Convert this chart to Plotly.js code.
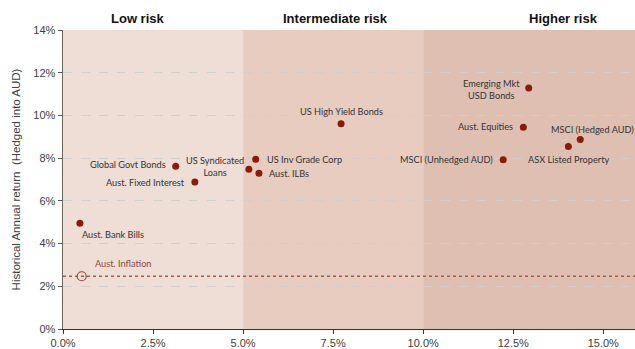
<!DOCTYPE html>
<html><head><meta charset="utf-8">
<script src="https://cdn.plot.ly/plotly-3.0.1.min.js"></script>
<style>html,body{margin:0;padding:0;background:#fff}#chart{width:635px;height:349px}</style>
</head><body><div id="chart"></div>
<script>
// Asset classes: risk (volatility, %) vs historical annual return (%)
const assets = ["Aust. Bank Bills","Global Govt Bonds","Aust. Fixed Interest","US Syndicated<br>Loans","US Inv Grade Corp","Aust. ILBs","US High Yield Bonds","Emerging Mkt<br>USD Bonds","Aust. Equities","MSCI (Hedged AUD)","ASX Listed Property","MSCI (Unhedged AUD)"];
const risk = [0.47, 3.13, 3.66, 5.16, 5.35, 5.44, 7.72, 12.93, 12.78, 14.36, 14.03, 12.22];
const ret  = [4.95, 7.62, 6.88, 7.48, 7.95, 7.29, 9.61, 11.28, 9.45, 8.87, 8.54, 7.93];
// label placement relative to marker (pixels)
const labAnchor = ["left","right","right","center","left","left","center","center","right","left","center","right"];
const labDx = [0,-8,-8,-34,9,8,0,-37,-8,-31,0,-8];
const labDy = [-11,2,0,3,0,0,12,-1,1,10,-13,0];

const inflationName = "Aust. Inflation";
const inflationRisk = 0.52;
const inflationRet = 2.47;

const bandNames = ["Low risk","Intermediate risk","Higher risk"];
const bandStart = [0, 5, 10];
const bandEnd = [5, 10, 16];
const bandColors = ["#EEDED5","#E8CCC0","#DFBFB1"];
const bandLabelX = [2.07, 7.57, 13.9];

const xTicks = [0, 2.5, 5, 7.5, 10, 12.5, 15];
const xTickText = ["0.0%","2.5%","5.0%","7.5%","10.0%","12.5%","15.0%"];
const yTicks = [0, 2, 4, 6, 8, 10, 12, 14];
const yTickText = ["0%","2%","4%","6%","8%","10%","12%","14%"];

const shapes = bandNames.map((n,i)=>({type:"rect",xref:"x",yref:"paper",x0:bandStart[i],x1:bandEnd[i],y0:0,y1:1,fillcolor:bandColors[i],line:{width:0},layer:"below"}));
shapes.push({type:"line",xref:"paper",yref:"y",x0:0,x1:1,y0:inflationRet,y1:inflationRet,line:{color:"#A35A52",width:1.3,dash:"dot"},layer:"above"});

const labelFont = {family:"Lato, 'Open Sans', sans-serif", size:9.2, color:"#333333"};
const annotations = assets.map((a,i)=>({x:risk[i],y:ret[i],xref:"x",yref:"y",text:a,showarrow:false,xanchor:labAnchor[i],yanchor:"middle",xshift:labDx[i],yshift:labDy[i],font:labelFont,align:"center"}));
annotations.push({x:inflationRisk,y:inflationRet,xref:"x",yref:"y",text:inflationName,showarrow:false,xanchor:"left",yanchor:"middle",xshift:11,yshift:13,font:{family:labelFont.family,size:9.2,color:"#8B4A42"}});
bandNames.forEach((n,i)=>annotations.push({x:bandLabelX[i],y:1,xref:"x",yref:"paper",yanchor:"bottom",yshift:2,text:"<b>"+n+"</b>",showarrow:false,font:{family:"Liberation Sans, Arial, sans-serif",size:13,color:"#111"}}));

const traces = [
 {type:"scatter",mode:"markers",x:risk,y:ret,marker:{size:7,color:"#8B1A0C"},hoverinfo:"text",text:assets,cliponaxis:false},
 {type:"scatter",mode:"markers",x:[inflationRisk],y:[inflationRet],marker:{size:9,color:"rgba(0,0,0,0)",line:{color:"#8B4A42",width:1.2}},cliponaxis:false}
];

const layout = {
 width:635,height:349,margin:{l:63,r:0,t:30,b:20},
 paper_bgcolor:"#fff",plot_bgcolor:"rgba(0,0,0,0)",showlegend:false,
 font:{family:"Liberation Sans, Arial, sans-serif",size:11,color:"#404040"},
 xaxis:{range:[0,15.88],tickvals:xTicks,ticktext:xTickText,showgrid:false,zeroline:false,showline:true,linecolor:"#333",linewidth:1.2,ticks:"outside",ticklen:4,tickcolor:"#333",tickfont:{size:11,color:"#404040"}},
 yaxis:{range:[0,14],tickvals:yTicks,ticktext:yTickText,showgrid:true,gridcolor:"#CFCFCF",griddash:"dash",gridwidth:1,zeroline:false,showline:true,linecolor:"#6E6460",linewidth:1.5,ticks:"outside",ticklen:4,tickcolor:"#555",tickfont:{size:11,color:"#404040"},
   title:{text:"Historical Annual return  (Hedged into AUD)",font:{size:11.5,color:"#404040"},standoff:10}},
 shapes:shapes,annotations:annotations
};
Plotly.newPlot("chart",traces,layout,{staticPlot:true});
</script></body></html>
